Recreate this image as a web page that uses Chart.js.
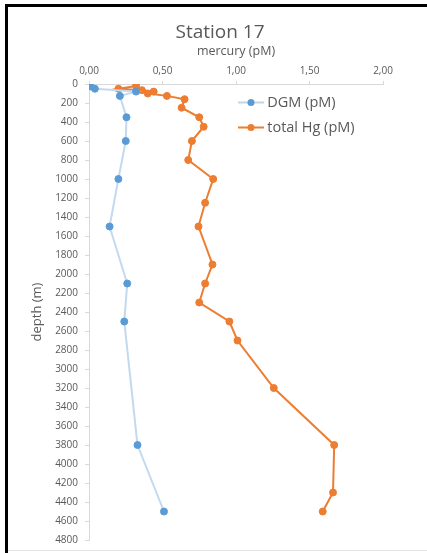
<!DOCTYPE html>
<html><head><meta charset="utf-8">
<script src="https://cdn.jsdelivr.net/npm/chart.js@4.4.1/dist/chart.umd.min.js"></script>
<style>
html,body{margin:0;padding:0;background:#fff;}
#wrap{position:relative;width:427px;height:553px;overflow:hidden;background:#fff;}
canvas{position:absolute;left:0;top:0;}
.f{position:absolute;background:#000;}
</style></head><body>
<div id="wrap"><canvas id="c" width="427" height="553"></canvas>
<div class="f" style="left:5px;top:4px;width:3px;height:549px"></div>
<div class="f" style="left:5px;top:4px;width:422px;height:3px"></div>
<div style="position:absolute;left:8px;top:550px;width:419px;height:1px;background:#e3e3e3"></div>
</div>
<script>
const chartTitle = 'Station 17';
const xAxisTitle = 'mercury (pM)';
const yAxisTitle = 'depth (m)';
const seriesNames = ['DGM (pM)', 'total Hg (pM)'];
const dgmDepth = [25, 50, 80, 125, 350, 600, 1000, 1500, 2100, 2500, 3800, 4500];
const dgmValue = [0.01, 0.04, 0.32, 0.21, 0.255, 0.25, 0.20, 0.14, 0.26, 0.24, 0.33, 0.51];
const hgDepth = [20, 50, 65, 80, 100, 125, 160, 250, 350, 450, 600, 800, 1000, 1250, 1500, 1900, 2100, 2300, 2500, 2700, 3200, 3800, 4300, 4500];
const hgValue = [0.32, 0.20, 0.36, 0.44, 0.40, 0.53, 0.65, 0.63, 0.75, 0.78, 0.70, 0.675, 0.845, 0.79, 0.745, 0.84, 0.79, 0.75, 0.955, 1.01, 1.257, 1.668, 1.66, 1.59];
const xTicks = [0, 0.5, 1, 1.5, 2];
const xTickLabels = ['0,00', '0,50', '1,00', '1,50', '2,00'];
const yTicks = [0, 200, 400, 600, 800, 1000, 1200, 1400, 1600, 1800, 2000, 2200, 2400, 2600, 2800, 3000, 3200, 3400, 3600, 3800, 4000, 4200, 4400, 4600, 4800];
const yTickLabels = ['0', '200', '400', '600', '800', '1000', '1200', '1400', '1600', '1800', '2000', '2200', '2400', '2600', '2800', '3000', '3200', '3400', '3600', '3800', '4000', '4200', '4400', '4600', '4800'];

const textGray = '#595959';
const axisGray = '#d9d9d9';
Chart.defaults.font.family = "'Open Sans', sans-serif";

function legendIcon(lineColor, dotColor) {
  const c = document.createElement('canvas');
  c.width = 26; c.height = 9;
  const g = c.getContext('2d');
  g.strokeStyle = lineColor; g.lineWidth = 2;
  g.beginPath(); g.moveTo(0, 4.5); g.lineTo(26, 4.5); g.stroke();
  g.fillStyle = dotColor;
  g.beginPath(); g.arc(13, 4.5, 3.5, 0, Math.PI * 2); g.fill();
  return c;
}
const icons = [legendIcon('#bcd6ee', '#5b9bd5'), legendIcon('#ed7d31', '#ed7d31')];

const placeBoxes = {
  id: 'placeBoxes',
  afterLayout(chart) {
    const lg = chart.legend;
    if (lg) { lg.left = 231.5; lg.top = 84.75; }
    const t = chart.titleBlock;
    if (t) { t.left = 13; t.right = 427; }
  }
};

new Chart(document.getElementById('c'), {
  type: 'scatter',
  data: {
    datasets: [
      {
        label: seriesNames[0],
        data: dgmDepth.map((d, i) => ({ x: dgmValue[i], y: d })),
        showLine: true,
        borderColor: '#c2d9ef',
        borderWidth: 2,
        pointRadius: 3.5,
        pointBackgroundColor: '#5b9bd5',
        pointBorderColor: '#5b9bd5',
        pointBorderWidth: 1
      },
      {
        label: seriesNames[1],
        data: hgDepth.map((d, i) => ({ x: hgValue[i], y: d })),
        showLine: true,
        borderColor: '#ed7d31',
        borderWidth: 2,
        pointRadius: 3.5,
        pointBackgroundColor: '#ed7d31',
        pointBorderColor: '#ed7d31',
        pointBorderWidth: 1
      }
    ]
  },
  options: {
    responsive: false,
    devicePixelRatio: 1,
    animation: false,
    events: [],
    layout: { padding: { left: 0, right: 44, top: 0, bottom: 12 } },
    plugins: {
      title: {
        display: true, text: chartTitle, color: textGray,
        font: { size: 19, weight: 'normal' },
        padding: { top: 21.5, bottom: 0 }
      },
      legend: {
        display: true,
        position: 'chartArea',
        align: 'start',
        labels: {
          usePointStyle: true,
          pointStyleWidth: 18,
          padding: 10.5,
          color: textGray,
          font: { size: 14.5 },
          generateLabels(chart) {
            const items = Chart.defaults.plugins.legend.labels.generateLabels(chart);
            items.forEach((it, i) => { it.pointStyle = icons[i]; it.fontColor = textGray; });
            return items;
          }
        }
      },
      tooltip: { enabled: false }
    },
    scales: {
      x: {
        type: 'linear', position: 'top', min: 0, max: 2,
        afterBuildTicks: s => { s.ticks = xTicks.map(v => ({ value: v })); },
        afterFit: s => { s.height = 39.7; },
        ticks: {
          callback: (v, i) => xTickLabels[i],
          color: textGray, font: { size: 10 }, padding: 4,
          maxRotation: 0, autoSkip: false
        },
        grid: { display: true, drawOnChartArea: false, drawTicks: true, tickLength: 3, color: axisGray },
        border: { display: true, color: axisGray, width: 1 },
        title: { display: true, text: xAxisTitle, color: textGray, font: { size: 12.5 }, padding: { top: 0, bottom: 0 } }
      },
      y: {
        type: 'linear', position: 'left', reverse: true, min: 0, max: 4800,
        afterBuildTicks: s => { s.ticks = yTicks.map(v => ({ value: v })); },
        afterFit: s => { s.width = 89; },
        ticks: {
          callback: (v, i) => yTickLabels[i],
          color: textGray, font: { size: 10 }, padding: 7, autoSkip: false
        },
        grid: { display: true, drawOnChartArea: false, drawTicks: true, tickLength: 4, color: axisGray },
        border: { display: true, color: axisGray, width: 1 },
        title: { display: true, text: yAxisTitle, color: textGray, font: { size: 13 }, padding: { top: 29.5, bottom: 0 } }
      }
    }
  },
  plugins: [placeBoxes]
});
</script>
</body></html>
